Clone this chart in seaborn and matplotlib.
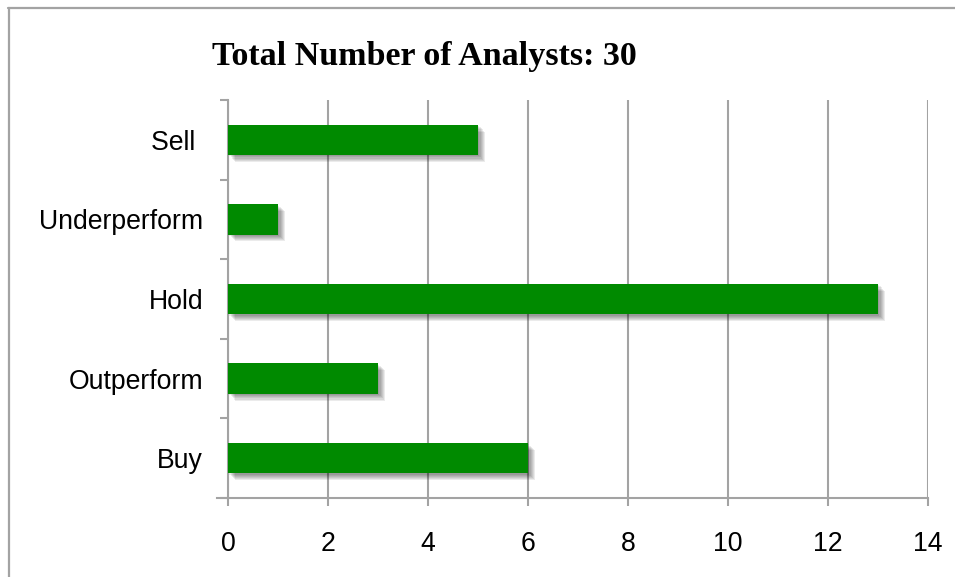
import matplotlib
matplotlib.use("Agg")
import matplotlib.pyplot as plt
import matplotlib.patheffects as pe
from matplotlib.lines import Line2D
from matplotlib.ticker import FixedLocator
import seaborn as sns
import pandas as pd

# Analyst recommendation counts
ratings = ["Sell ", "Underperform", "Hold", "Outperform", "Buy"]
counts = [5, 1, 13, 3, 6]
x_ticks = [0, 2, 4, 6, 8, 10, 12, 14]
title = "Total Number of Analysts: 30"

df = pd.DataFrame({"rating": ratings, "count": counts})

sns.set_theme(style="white")
plt.rcParams["font.family"] = ["Liberation Sans", "DejaVu Sans"]

fig = plt.figure(figsize=(9.55, 5.77), dpi=100)
ax = fig.add_axes([228 / 955, 79 / 577, 700 / 955, 398 / 577])

sns.barplot(data=df, x="count", y="rating", order=ratings, orient="h",
            color="#008a00", saturation=1, width=0.38, ax=ax, zorder=3)

# soft drop shadow under each bar
shadow = [pe.SimplePatchShadow(offset=(o, -o), shadow_rgbFace="black", alpha=0.08)
          for o in (1.0, 1.8, 2.6, 3.4, 4.2, 5.0)]
for p in ax.patches:
    p.set_edgecolor("none")
    p.set_path_effects(shadow + [pe.Normal()])

grid_col = "#a3a3a3"
ax.set_xlim(0, 14)
ax.set_ylim(len(ratings) - 0.5, -0.5)
ax.set_xticks(x_ticks)
ax.set_xticklabels([str(t) for t in x_ticks])
ax.xaxis.grid(True, color=grid_col, linewidth=1.5)
ax.yaxis.grid(False)
ax.set_axisbelow(True)

for s in ("top", "right"):
    ax.spines[s].set_visible(False)
for s in ("left", "bottom"):
    ax.spines[s].set_color(grid_col)
    ax.spines[s].set_linewidth(1.5)
ax.spines["bottom"].set_bounds(-0.22, 14)

# category boundaries as tick marks on the y axis
ax.yaxis.set_minor_locator(FixedLocator([i - 0.5 for i in range(len(ratings) + 1)]))
ax.tick_params(axis="y", which="minor", length=6, width=1.5, color=grid_col, left=True)
ax.tick_params(axis="y", which="major", length=0, pad=18, labelsize=19.2, labelcolor="black")
ax.tick_params(axis="x", which="major", length=6, width=1.5, color=grid_col,
               bottom=True, direction="out", pad=18, labelsize=19.2, labelcolor="black")

ax.set_xlabel("")
ax.set_ylabel("")

fig.text(424 / 955, 1 - 57 / 577, title, ha="center", va="center", color="black",
         fontsize=24.5, fontweight="bold", family=["Liberation Serif", "DejaVu Serif"])

# chart frame
W, H = 955, 577
fig.add_artist(Line2D([8 / W, 1], [1 - 8 / H, 1 - 8 / H], transform=fig.transFigure,
                      color=grid_col, linewidth=1.6))
fig.add_artist(Line2D([9 / W, 9 / W], [1 - 8 / H, 0], transform=fig.transFigure,
                      color=grid_col, linewidth=1.6))

fig.savefig("out.png", dpi=100)
